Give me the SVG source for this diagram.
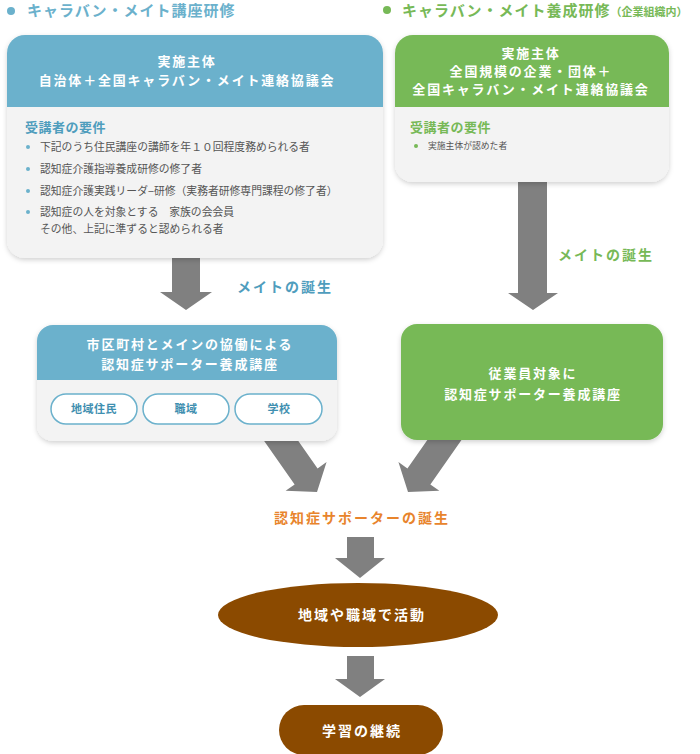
<svg xmlns="http://www.w3.org/2000/svg" width="700" height="754" viewBox="0 0 700 754">
<defs>
<filter id="sh" x="-10%" y="-10%" width="120%" height="130%">
<feDropShadow dx="0" dy="2" stdDeviation="2.5" flood-color="#000" flood-opacity="0.18"/>
</filter>
<clipPath id="cL1"><rect x="7" y="35" width="376" height="223" rx="18"/></clipPath>
<clipPath id="cR1"><rect x="395" y="35" width="274" height="147" rx="18"/></clipPath>
<clipPath id="cL2"><rect x="37" y="325" width="300" height="116" rx="16"/></clipPath>
</defs>
<style>
text{font-family:"Noto Sans CJK JP","Noto Sans",sans-serif;}
.t{font-weight:bold;font-size:15px;letter-spacing:1px;}
.hd{font-weight:bold;font-size:13px;fill:#fff;letter-spacing:1.8px;text-anchor:middle;}
.req{font-weight:bold;font-size:13px;letter-spacing:0.5px;}
.li{font-size:10.8px;fill:#555;}
.big{font-weight:bold;font-size:14px;letter-spacing:2px;}
.pill{fill:#fff;stroke:#6bb1cc;stroke-width:1.5;}
.pt{font-weight:bold;font-size:11px;fill:#3f8fb0;text-anchor:middle;letter-spacing:0.5px;}
.arr{fill:#808080;}
.blue{fill:#6bb1cc;}
.green{fill:#77b957;}
.body{fill:#f3f3f3;}
.brown{fill:#8b4a00;}
</style>

<g id="title-left">
<circle cx="11" cy="11" r="4" class="blue"/>
<text x="27" y="16" class="t" fill="#6bb1cc">キャラバン・メイト講座研修</text>
</g>
<g id="title-right">
<circle cx="387" cy="10" r="4" class="green"/>
<text x="402" y="16" class="t" fill="#77b957">キャラバン・メイト養成研修<tspan font-size="11" letter-spacing="0">（企業組織内）</tspan></text>
</g>

<g id="connectors">
<polygon class="arr" points="172,258 200,258 200,292 212,292 186,310 160,292 172,292"/>
<polygon class="arr" points="518,181 547,181 547,293 558,293 533,310 508,293 518,293"/>
<g transform="translate(317,492) rotate(-35)">
<polygon class="arr" points="0,0 -25,-19 -14,-19 -14,-90 14,-90 14,-19 25,-19"/>
</g>
<g transform="translate(408,492) rotate(35)">
<polygon class="arr" points="0,0 -25,-19 -14,-19 -14,-90 14,-90 14,-19 25,-19"/>
</g>
<polygon class="arr" points="347,537 374,537 374,558 385,558 360,578 335,558 347,558"/>
<polygon class="arr" points="347,656 374,656 374,679 385,679 360,697 335,679 347,679"/>
<text x="237" y="292" class="big" fill="#4f9dbd" letter-spacing="1">メイトの誕生</text>
<text x="558" y="260" class="big" fill="#77b957" letter-spacing="1">メイトの誕生</text>
</g>

<g id="card-left">
<rect x="7" y="35" width="376" height="223" rx="18" class="body" filter="url(#sh)"/>
<rect x="7" y="35" width="376" height="72" class="blue" clip-path="url(#cL1)"/>
<text x="187" y="66" class="hd">実施主体</text>
<text x="187" y="85" class="hd">自治体＋全国キャラバン・メイト連絡協議会</text>
<text x="25" y="132" class="req" fill="#4f9dbd">受講者の要件</text>
<g fill="#6bb1cc">
<circle cx="28" cy="147" r="2"/><circle cx="28" cy="169" r="2"/><circle cx="28" cy="191" r="2"/><circle cx="28" cy="212" r="2"/>
</g>
<text x="40" y="151" class="li">下記のうち住民講座の講師を年１０回程度務められる者</text>
<text x="40" y="173" class="li">認知症介護指導養成研修の修了者</text>
<text x="40" y="195" class="li">認知症介護実践リーダ−研修（実務者研修専門課程の修了者）</text>
<text x="40" y="216" class="li">認知症の人を対象とする　家族の会会員</text>
<text x="40" y="233" class="li">その他、上記に準ずると認められる者</text>
</g>

<g id="card-right">
<rect x="395" y="35" width="274" height="147" rx="18" class="body" filter="url(#sh)"/>
<rect x="395" y="35" width="274" height="72" class="green" clip-path="url(#cR1)"/>
<text x="531" y="58" class="hd">実施主体</text>
<text x="531" y="76" class="hd">全国規模の企業・団体＋</text>
<text x="531" y="94" class="hd">全国キャラバン・メイト連絡協議会</text>
<text x="410" y="132" class="req" fill="#77b957">受講者の要件</text>
<circle cx="416" cy="146" r="2" class="green"/>
<text x="428" y="149" font-size="8.8" fill="#555">実施主体が認めた者</text>
</g>

<g id="course-left">
<rect x="37" y="325" width="300" height="116" rx="16" class="body" filter="url(#sh)"/>
<rect x="37" y="325" width="300" height="55" class="blue" clip-path="url(#cL2)"/>
<text x="190" y="349" class="hd">市区町村とメインの協働による</text>
<text x="190" y="369" class="hd">認知症サポーター養成講座</text>
<g id="pill-1"><rect x="51" y="394" width="86" height="30" rx="15" class="pill"/><text x="94" y="413" class="pt">地域住民</text></g>
<g id="pill-2"><rect x="143" y="394" width="86" height="30" rx="15" class="pill"/><text x="186" y="413" class="pt">職域</text></g>
<g id="pill-3"><rect x="235" y="394" width="87" height="30" rx="15" class="pill"/><text x="279" y="413" class="pt">学校</text></g>
</g>

<g id="course-right">
<rect x="401" y="324" width="262" height="116" rx="16" class="green" filter="url(#sh)"/>
<text x="533" y="378" class="hd">従業員対象に</text>
<text x="533" y="399" class="hd">認知症サポーター養成講座</text>
</g>

<g id="supporter-birth">
<text x="362" y="523" class="big" fill="#e8842c" text-anchor="middle">認知症サポーターの誕生</text>
</g>

<g id="activity">
<ellipse cx="358" cy="615" rx="140" ry="32" class="brown"/>
<text x="362" y="620" class="big" fill="#fff" text-anchor="middle">地域や職域で活動</text>
</g>

<g id="learning">
<rect x="279" y="705" width="164" height="50" rx="25" class="brown"/>
<text x="362" y="736" class="big" fill="#fff" text-anchor="middle">学習の継続</text>
</g>
</svg>
